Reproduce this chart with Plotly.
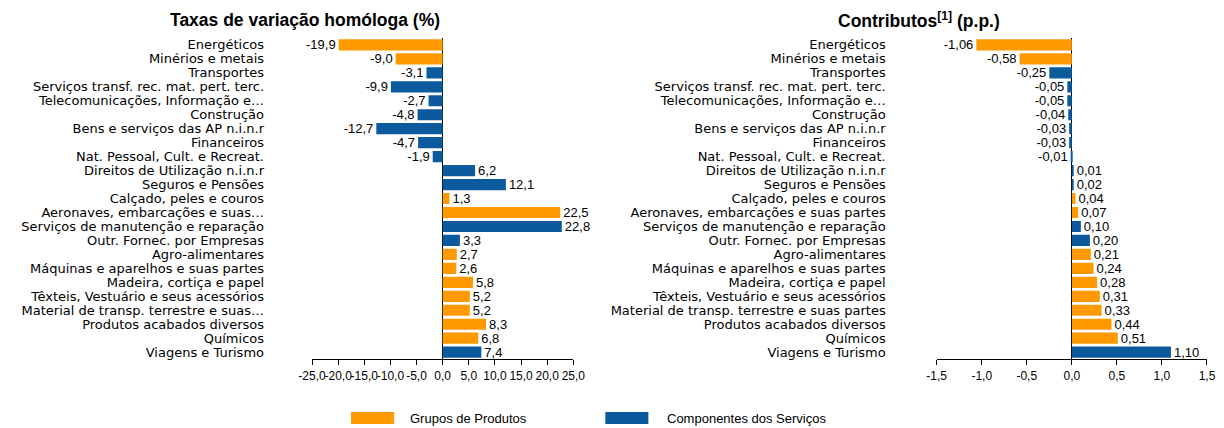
import plotly.graph_objects as go

labels_left = ["Energéticos", "Minérios e metais", "Transportes", "Serviços transf. rec. mat. pert. terc.",
               "Telecomunicações, Informação e…", "Construção", "Bens e serviços das AP n.i.n.r", "Financeiros",
               "Nat. Pessoal, Cult. e Recreat.", "Direitos de Utilização n.i.n.r", "Seguros e Pensões",
               "Calçado, peles e couros", "Aeronaves, embarcações e suas…", "Serviços de manutenção e reparação",
               "Outr. Fornec. por Empresas", "Agro-alimentares", "Máquinas e aparelhos e suas partes",
               "Madeira, cortiça e papel", "Têxteis, Vestuário e seus acessórios",
               "Material de transp. terrestre e suas…", "Produtos acabados diversos", "Químicos", "Viagens e Turismo"]
labels_right = ["Energéticos", "Minérios e metais", "Transportes", "Serviços transf. rec. mat. pert. terc.",
                "Telecomunicações, Informação e…", "Construção", "Bens e serviços das AP n.i.n.r", "Financeiros",
                "Nat. Pessoal, Cult. e Recreat.", "Direitos de Utilização n.i.n.r", "Seguros e Pensões",
                "Calçado, peles e couros", "Aeronaves, embarcações e suas partes", "Serviços de manutenção e reparação",
                "Outr. Fornec. por Empresas", "Agro-alimentares", "Máquinas e aparelhos e suas partes",
                "Madeira, cortiça e papel", "Têxteis, Vestuário e seus acessórios",
                "Material de transp. terrestre e suas partes", "Produtos acabados diversos", "Químicos", "Viagens e Turismo"]
groups = ["P", "P", "S", "S", "S", "S", "S", "S", "S", "S", "S", "P", "P", "S", "S", "P", "P", "P", "P", "P", "P", "P", "S"]
taxas = [-19.9, -9.0, -3.1, -9.9, -2.7, -4.8, -12.7, -4.7, -1.9, 6.2, 12.1, 1.3, 22.5, 22.8, 3.3, 2.7, 2.6, 5.8, 5.2, 5.2, 8.3, 6.8, 7.4]
contributos = [-1.06, -0.58, -0.25, -0.05, -0.05, -0.04, -0.03, -0.03, -0.01, 0.01, 0.02, 0.04, 0.07, 0.10, 0.20, 0.21, 0.24, 0.28, 0.31, 0.33, 0.44, 0.51, 1.10]
left_ticks = [-25, -20, -15, -10, -5, 0, 5, 10, 15, 20, 25]
right_ticks = [-1.5, -1.0, -0.5, 0, 0.5, 1.0, 1.5]
legend_names = {"P": "Grupos de Produtos", "S": "Componentes dos Serviços"}

ORANGE = "#FF9900"
BLUE = "#0B5A9E"
colors = {"P": ORANGE, "S": BLUE}
FONT = "Liberation Sans, Arial, sans-serif"
CATFONT = "DejaVu Sans, Liberation Sans, sans-serif"
W, H = 1224, 428


def fx(X):
    # horizontal pixel in the photographed picture -> paper fraction
    return (X - 14.3) / 0.9777 / W


def fy(Y):
    return (H - Y) / H


def fmt_tick(v):
    return f"{v:.1f}".replace(".", ",")


fig = go.Figure()


def add(labels, vals, xa, ya, fmt):
    for g in ["P", "S"]:
        ys = [l for l, gg in zip(labels, groups) if gg == g]
        xs = [v for v, gg in zip(vals, groups) if gg == g]
        fig.add_trace(go.Bar(
            x=xs, y=ys, orientation="h", xaxis=xa, yaxis=ya,
            marker=dict(color=colors[g], line=dict(width=0)),
            texttemplate="%{x:" + fmt + "}", textposition="outside",
            constraintext="none", cliponaxis=False,
            textfont=dict(family=FONT, size=13, color="#000"),
            showlegend=False, name=legend_names[g], hoverinfo="x+y",
        ))


add(labels_left, taxas, "x", "y", ".1f")
add(labels_right, contributos, "x2", "y2", ".2f")

ydom = [fy(360), fy(38)]
common_y = dict(type="category", autorange="reversed", showgrid=False, showline=False, ticks="",
                tickmode="linear", dtick=1, tick0=0,
                tickfont=dict(family=CATFONT, size=13, color="#000"), domain=ydom)
common_x = dict(showgrid=False, showline=True, linecolor="#000", linewidth=1, ticks="outside",
                ticklen=5, tickcolor="#000", zeroline=True, zerolinecolor="#000", zerolinewidth=1.2,
                tickangle=0, tickmode="array",
                tickfont=dict(family=FONT, size=12, color="#000"))

fig.update_layout(
    width=W, height=H, margin=dict(l=0, r=0, t=0, b=0),
    paper_bgcolor="white", plot_bgcolor="white",
    separators=",.", barmode="overlay", bargap=0.2,
    font=dict(family=FONT, color="#000"),
    xaxis=dict(common_x, domain=[fx(312), fx(573)], range=[-25, 25], tickvals=left_ticks,
               ticktext=[fmt_tick(v) for v in left_ticks], anchor="y"),
    yaxis=dict(common_y, anchor="x", categoryarray=labels_left, categoryorder="array", ticklabelstandoff=47),
    xaxis2=dict(common_x, domain=[fx(936), fx(1206)], range=[-1.5, 1.5], tickvals=right_ticks,
                ticktext=[fmt_tick(v) for v in right_ticks], anchor="y2"),
    yaxis2=dict(common_y, anchor="x2", categoryarray=labels_right, categoryorder="array", ticklabelstandoff=50),
    annotations=[
        dict(text="<b>Taxas de variação homóloga (%)</b>", x=fx(305), y=fy(20), xref="paper",
             yref="paper", showarrow=False, font=dict(family=FONT, size=17.5, color="#000"),
             xanchor="center", yanchor="middle"),
        dict(text="<b>Contributos<sup>[1]</sup> (p.p.)</b>", x=fx(918), y=fy(20), xref="paper",
             yref="paper", showarrow=False, font=dict(family=FONT, size=17.5, color="#000"),
             xanchor="center", yanchor="middle"),
        dict(text=legend_names["P"], x=fx(408), y=fy(419), xref="paper", yref="paper",
             showarrow=False, font=dict(family=FONT, size=13, color="#000"), xanchor="left", yanchor="middle"),
        dict(text=legend_names["S"], x=fx(665), y=fy(419), xref="paper", yref="paper",
             showarrow=False, font=dict(family=FONT, size=13, color="#000"), xanchor="left", yanchor="middle"),
    ],
    shapes=[
        dict(type="rect", xref="paper", yref="paper", x0=fx(351), x1=fx(394),
             y0=fy(425), y1=fy(413), fillcolor=ORANGE, line=dict(width=0)),
        dict(type="rect", xref="paper", yref="paper", x0=fx(605), x1=fx(648),
             y0=fy(425), y1=fy(413), fillcolor=BLUE, line=dict(width=0)),
    ],
)

fig.write_html("out.html")
